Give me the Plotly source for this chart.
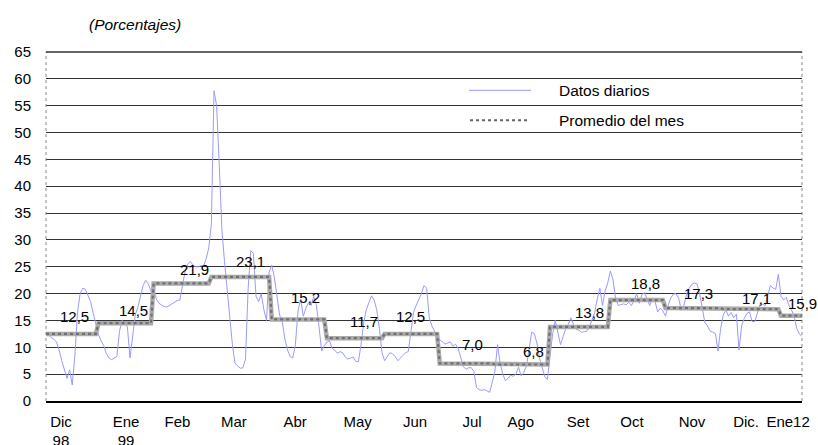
import plotly.graph_objects as go

# ---------------- data ----------------
month_names = ["Dic 98", "Ene 99", "Feb", "Mar", "Abr", "May", "Jun", "Jul",
               "Ago", "Set", "Oct", "Nov", "Dic.", "Ene12"]
tick_labels = ["Dic<br>98", "Ene<br>99", "Feb", "Mar", "Abr", "May", "Jun", "Jul",
               "Ago", "Set", "Oct", "Nov", "Dic.", "Ene12"]
monthly_avg = [12.5, 14.5, 21.9, 23.1, 15.2, 11.7, 12.5, 7.0, 6.8, 13.8, 18.8, 17.3, 17.1, 15.9]

d_dic98 = [12.4, 12.3, 11.8, 11.5, 11.0, 9.5, 7.5, 5.8, 4.2, 5.8, 3.0, 8.5, 16.5, 20.0, 21.0,
           20.8, 19.8, 18.5, 16.3, 14.0]
d_ene99 = [12.3, 11.2, 10.3, 8.8, 8.0, 7.7, 8.0, 8.3, 13.0, 15.0, 14.5, 13.8, 8.0, 12.5, 16.0,
           17.5, 19.5, 21.5, 22.5, 21.8, 20.4]
d_feb = [21.0, 19.0, 18.2, 17.9, 17.6, 17.5, 17.8, 18.2, 18.5, 18.7, 18.8, 21.5, 24.2, 25.5,
         26.0, 25.3, 25.0, 25.0, 25.2, 25.1, 26.5, 28.5]
d_mar = [33.0, 57.8, 55.0, 44.0, 32.0, 26.0, 21.0, 16.0, 10.5, 7.0, 6.5, 6.1, 6.2, 7.8, 21.0,
         28.0, 27.5, 19.5, 18.5, 20.0, 17.0, 15.0, 24.0]
d_abr = [25.3, 23.0, 19.5, 16.0, 14.8, 11.5, 9.5, 8.3, 8.0, 10.5, 16.8, 19.0, 15.8, 17.3, 18.3,
         17.8, 19.5, 17.8, 13.9, 9.3, 10.3]
d_may = [11.0, 11.2, 9.8, 9.5, 8.9, 9.2, 9.0, 8.2, 7.8, 8.0, 8.2, 7.4, 7.3, 10.5, 14.5, 17.0,
         18.3, 19.6, 18.8, 17.0, 13.5, 9.0]
d_jun = [7.5, 8.3, 9.0, 8.8, 8.3, 7.5, 8.0, 8.6, 9.0, 9.2, 13.0, 16.5, 17.8, 18.8, 20.0, 21.5,
         21.0, 15.5, 14.0, 13.0, 12.0]
d_jul = [11.4, 11.0, 10.6, 10.8, 11.0, 10.2, 10.6, 9.8, 8.0, 6.4, 5.9, 6.2, 6.2, 5.5, 2.5, 2.1,
         2.0, 2.1, 1.9, 1.6, 3.5]
d_ago = [5.5, 10.5, 7.0, 5.0, 3.8, 4.2, 4.8, 4.6, 5.0, 6.3, 4.7, 5.3, 6.5, 9.5, 12.8, 12.6,
         10.8, 8.0, 6.2, 4.5, 4.0]
d_set = [8.0, 12.5, 15.0, 12.6, 10.5, 12.0, 13.5, 14.3, 15.5, 14.2, 13.3, 13.2, 12.8, 12.9,
         13.0, 13.8, 15.2, 16.4, 19.0, 21.0, 17.8, 20.5, 22.0]
d_oct = [24.2, 22.6, 19.0, 17.8, 18.0, 18.1, 17.9, 18.4, 17.8, 18.6, 20.0, 18.2, 19.8, 20.2,
         19.0, 17.8, 19.2, 18.6, 16.6, 17.3, 16.8]
d_nov = [15.8, 17.8, 19.2, 19.9, 20.0, 19.2, 16.9, 17.8, 19.8, 21.0, 21.7, 22.0, 21.8, 20.0,
         17.5, 14.6, 14.0, 13.0, 12.8, 12.6, 9.3, 13.5]
d_dic99 = [16.0, 17.0, 15.8, 16.5, 15.5, 16.2, 9.5, 14.0, 15.4, 16.3, 16.6, 14.8, 14.8, 16.5,
           18.0, 18.0, 17.8, 19.8, 21.5, 21.0, 20.8, 23.6]
d_ene00 = [19.5, 18.8, 19.3, 17.8, 17.0, 15.8, 13.5, 12.5, 12.0]

daily_by_month = [d_dic98, d_ene99, d_feb, d_mar, d_abr, d_may, d_jun, d_jul, d_ago,
                  d_set, d_oct, d_nov, d_dic99, d_ene00]

# ---------------- derived series ----------------
daily = [v for m in daily_by_month for v in m]
avg_daily = [a for a, m in zip(monthly_avg, daily_by_month) for _ in m]
x_days = list(range(len(daily)))
n = len(daily)

# ---------------- layout helpers (positions, not data) ----------------
tick_pos = [5.7, 30.5, 50.1, 71.6, 94.9, 118.7, 140.6, 162.3, 180.9, 202.7, 223.2, 246.1,
            266.7, 282.7]
label_pos = [11, 33.5, 56.4, 78, 99, 121, 139, 162.3, 185.9, 207.2, 228.2, 248.4, 270.5, 288]
label_shift = [17, 13, 13.5, 15, 22, 17, 17, 18.6, 13, 14, 17, 15, 11, 12.5]

FONT = "Liberation Sans, Arial, sans-serif"
BLUE = "#9a9aff"

fig = go.Figure()
fig.add_trace(go.Scatter(x=x_days, y=daily, mode="lines", name="Datos diarios",
                         line=dict(color=BLUE, width=1), showlegend=False,
                         hoverinfo="skip"))
fig.add_trace(go.Scatter(x=x_days, y=avg_daily, mode="lines", name="Promedio del mes",
                         line=dict(color="#ababab", width=4.5), showlegend=False,
                         hoverinfo="skip"))
fig.add_trace(go.Scatter(x=x_days, y=avg_daily, mode="lines", showlegend=False,
                         line=dict(color="#707070", width=2.2, dash="dot"),
                         hoverinfo="skip"))

annotations = []
for v, px, sh in zip(monthly_avg, label_pos, label_shift):
    annotations.append(dict(x=px, y=v, xref="x", yref="y", yshift=sh,
                            text=f"{v:.1f}".replace(".", ","), showarrow=False,
                            font=dict(family=FONT, size=15, color="black")))

annotations.append(dict(x=87, y=24, xref="paper", yref="paper", text="<i>(Porcentajes)</i>",
                        showarrow=False, xanchor="left", yanchor="middle",
                        font=dict(family=FONT, size=15.5, color="black")))

# manual legend
leg_items = [("Datos diarios", 90), ("Promedio del mes", 120)]
for txt, yy in leg_items:
    annotations.append(dict(x=557, y=yy, xref="paper", yref="paper", text=txt,
                            showarrow=False, xanchor="left", yanchor="middle",
                            font=dict(family=FONT, size=15.5, color="black")))

W, H = 818, 445
L, R, T, B = 46, 16, 51.6, 43.7


def px_to_paper_x(px):
    return (px - L) / (W - L - R)


def py_to_paper_y(py):
    return (H - B - py) / (H - T - B)


for a in annotations:
    if a.get("xref") == "paper":
        a["x"] = px_to_paper_x(a["x"])
        a["y"] = py_to_paper_y(a["y"])

shapes = [
    dict(type="line", xref="paper", yref="paper", x0=px_to_paper_x(469), x1=px_to_paper_x(531),
         y0=py_to_paper_y(90), y1=py_to_paper_y(90), line=dict(color=BLUE, width=1)),
    dict(type="line", xref="paper", yref="paper", x0=px_to_paper_x(470), x1=px_to_paper_x(528),
         y0=py_to_paper_y(120), y1=py_to_paper_y(120), line=dict(color="#666666", width=2, dash="dot")),
    dict(type="line", xref="paper", yref="paper", x0=0, x1=0, y0=0, y1=1,
         line=dict(color="#888888", width=1, dash="dot")),
    dict(type="line", xref="paper", yref="paper", x0=1, x1=1, y0=0, y1=1,
         line=dict(color="#888888", width=1, dash="dot")),
    dict(type="line", xref="paper", yref="paper", x0=0, x1=1, y0=1, y1=1,
         line=dict(color="#333333", width=1.3)),
]

fig.update_layout(
    width=W, height=H,
    margin=dict(l=L, r=R, t=T, b=B, autoexpand=False),
    paper_bgcolor="white", plot_bgcolor="white",
    showlegend=False,
    font=dict(family=FONT, size=15, color="black"),
    annotations=annotations,
    shapes=shapes,
    xaxis=dict(range=[0, n - 1], tickmode="array", tickvals=tick_pos, ticktext=tick_labels,
               showgrid=False, zeroline=False, showline=True, linecolor="black", linewidth=1.5,
               ticks="", ticklabelstandoff=6, tickfont=dict(family=FONT, size=15, color="black")),
    yaxis=dict(range=[0, 65], dtick=5, tick0=0, showgrid=True, gridcolor="#333333",
               gridwidth=1.3, zeroline=False, showline=False, ticks="",
               ticklabelstandoff=14, tickfont=dict(family=FONT, size=15, color="black")),
)

fig.write_html("out.html", config={"displayModeBar": False},
               post_script="document.body.style.margin='0';document.body.style.overflow='hidden';")
